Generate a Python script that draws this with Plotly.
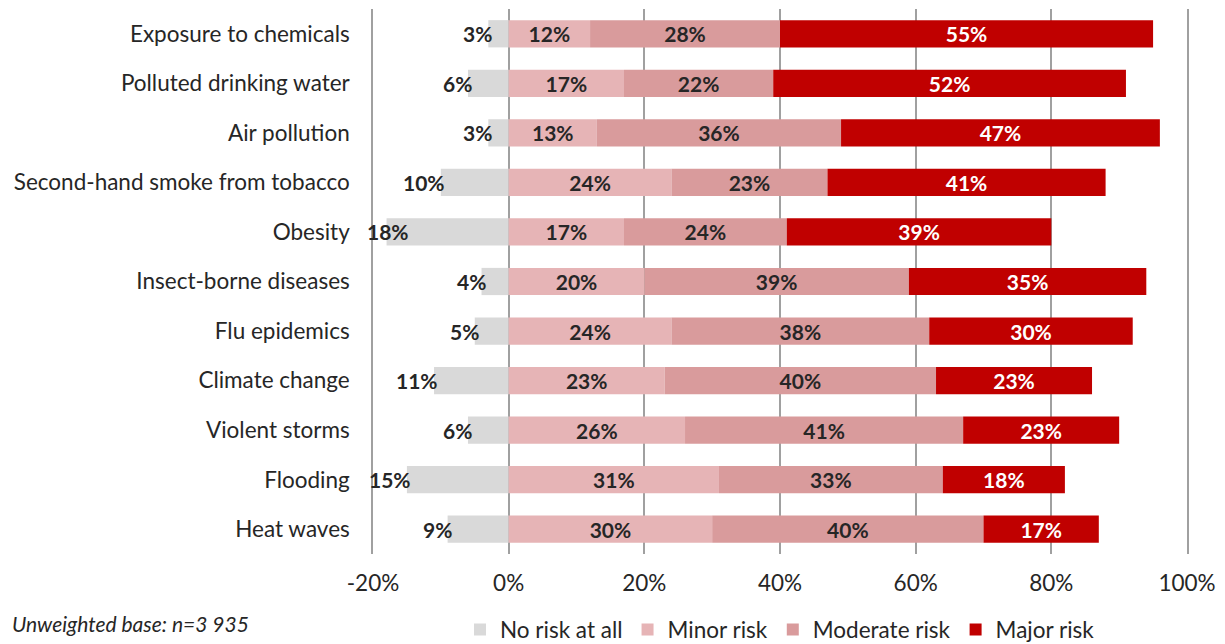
import plotly.graph_objects as go

# Perceived health risks, share of respondents per answer (%)
categories = [
    "Exposure to chemicals",
    "Polluted drinking water",
    "Air pollution",
    "Second-hand smoke from tobacco",
    "Obesity",
    "Insect-borne diseases",
    "Flu epidemics",
    "Climate change",
    "Violent storms",
    "Flooding",
    "Heat waves",
]
no_risk = [3, 6, 3, 10, 18, 4, 5, 11, 6, 15, 9]
minor_risk = [12, 17, 13, 24, 17, 20, 24, 23, 26, 31, 30]
moderate_risk = [28, 22, 36, 23, 24, 39, 38, 40, 41, 33, 40]
major_risk = [55, 52, 47, 41, 39, 35, 30, 23, 23, 18, 17]

tick_values = [-20, 0, 20, 40, 60, 80, 100]
tick_labels = ["-20%", "0%", "20%", "40%", "60%", "80%", "100%"]

FONT = "Lato"
DARK = "#262626"
GRID = "#a0a0a0"
C_NONE = "#d9d9d9"
C_MINOR = "#e6b4b6"
C_MOD = "#d99b9c"
C_MAJOR = "#c00000"
LABEL_SIZE = 21
AXIS_SIZE = 22.5

fig = go.Figure()

# "No risk" is drawn to the left of zero
fig.add_trace(go.Bar(
    y=categories, x=[-v for v in no_risk], orientation="h",
    name="No risk at all", marker=dict(color=C_NONE, line=dict(width=0)),
    width=0.55, hoverinfo="skip",
))

for name, vals, col, tcol in [
    ("Minor risk", minor_risk, C_MINOR, DARK),
    ("Moderate risk", moderate_risk, C_MOD, DARK),
    ("Major risk", major_risk, C_MAJOR, "white"),
]:
    fig.add_trace(go.Bar(
        y=categories, x=vals, orientation="h", name=name,
        marker=dict(color=col, line=dict(width=0)), width=0.55,
        text=[f"{v}%" for v in vals], textposition="inside",
        insidetextanchor="middle", constraintext="none",
        textfont=dict(family=FONT, size=LABEL_SIZE, color=tcol, weight="bold"),
        hoverinfo="skip",
    ))

# labels for the "No risk" segments, placed at the left end of each bar
annotations = []
for cat, v in zip(categories, no_risk):
    if v > 16:
        annotations.append(dict(
            x=-20, y=cat, xref="x", yref="y", text=f"{v}%", showarrow=False,
            xanchor="left", xshift=-8,
            font=dict(family=FONT, size=LABEL_SIZE, color=DARK, weight="bold"),
        ))
    else:
        annotations.append(dict(
            x=-v, y=cat, xref="x", yref="y", text=f"{v}%", showarrow=False,
            xanchor="right", xshift=6,
            font=dict(family=FONT, size=LABEL_SIZE, color=DARK, weight="bold"),
        ))

# sample-size note in the bottom-left corner
annotations.append(dict(
    x=-0.446, y=-0.1, xref="paper", yref="paper", xanchor="left", yanchor="top",
    text="<i>Unweighted base: n=3 935</i>", showarrow=False,
    font=dict(family=FONT, size=21, color=DARK),
))

fig.update_layout(
    barmode="relative",
    width=1225, height=644,
    margin=dict(l=373, r=38, t=9, b=90, autoexpand=False),
    paper_bgcolor="white", plot_bgcolor="white",
    font=dict(family=FONT, size=AXIS_SIZE, color=DARK),
    annotations=annotations,
    legend=dict(
        orientation="h", x=0.5, xanchor="center",
        yref="container", y=0.022, yanchor="middle",
        font=dict(family=FONT, size=AXIS_SIZE, color=DARK), traceorder="normal",
        itemsizing="constant",
    ),
    showlegend=True,
)

fig.update_xaxes(
    range=[-20, 100], tickvals=tick_values, ticktext=tick_labels,
    showgrid=True, gridcolor=GRID, gridwidth=1.5, zeroline=False,
    showline=False, ticks="", ticklabelstandoff=13,
    tickfont=dict(family=FONT, size=AXIS_SIZE, color=DARK),
    fixedrange=True,
)
fig.update_yaxes(
    categoryorder="array", categoryarray=categories, autorange="reversed",
    showgrid=False, zeroline=False,
    showline=True, linecolor=GRID, linewidth=1.5, mirror=True,
    ticks="", ticklabelstandoff=17,
    tickfont=dict(family=FONT, size=AXIS_SIZE, color=DARK), fixedrange=True,
)

fig.write_html("out.html")
